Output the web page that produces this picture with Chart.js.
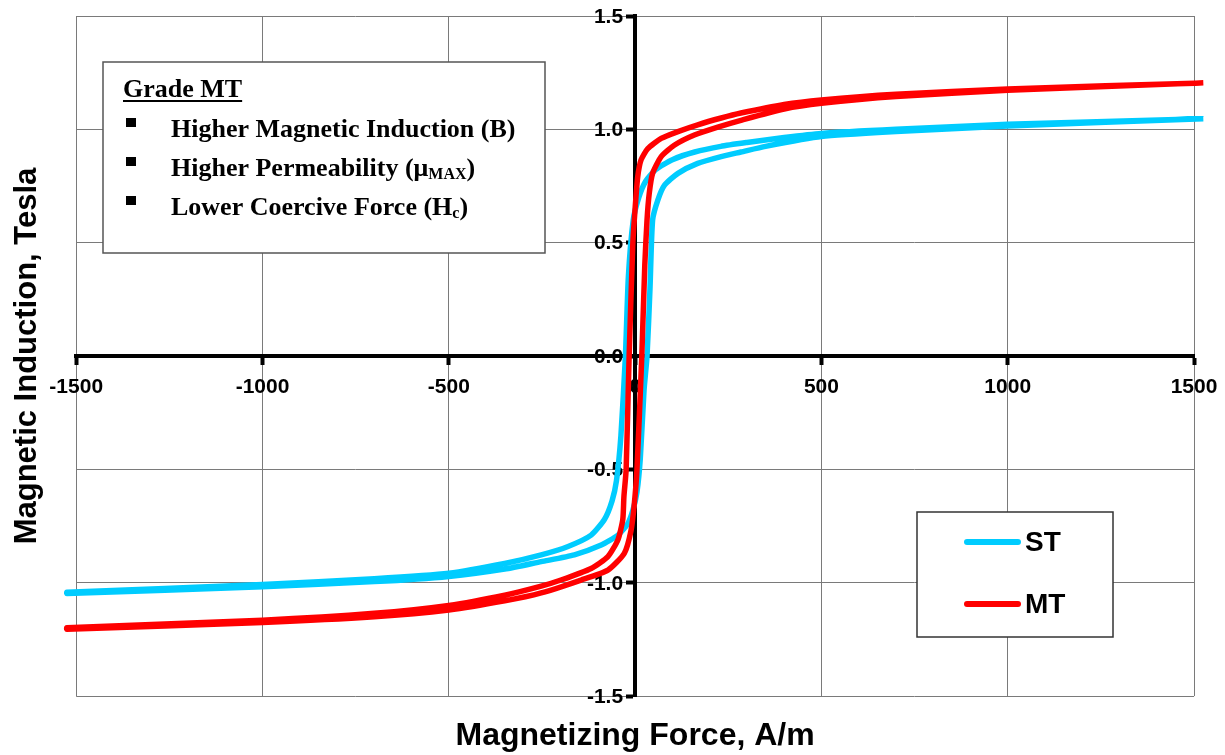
<!DOCTYPE html>
<html>
<head>
<meta charset="utf-8">
<title>B-H hysteresis loops, ST vs MT</title>
<script src="https://cdn.jsdelivr.net/npm/chart.js@4.4.1/dist/chart.umd.min.js"></script>
<style>
  html, body { margin: 0; padding: 0; background: #ffffff; }
  #wrap { width: 1225px; height: 755px; }
</style>
</head>
<body>
<div id="wrap"><canvas id="bhChart" width="1225" height="755"></canvas></div>
<script>
// axis ticks
const xTickValues = [-1500, -1000, -500, 0, 500, 1000, 1500];
const xTickLabels = ['-1500', '-1000', '-500', '0', '500', '1000', '1500'];
const yTickValues = [-1.5, -1.0, -0.5, 0, 0.5, 1.0, 1.5];
const yTickLabels = ['-1.5', '-1.0', '-0.5', '0.0', '0.5', '1.0', '1.5'];

const seriesNames = ['ST', 'MT'];

// ST loop (H in A/m, B in Tesla), descending branch then ascending branch
const stDownH = [1525, 1000, 700, 500, 400, 300, 230, 160, 100, 55, 28, 10, -5, -18, -26, -38, -50, -62, -82, -118, -180, -252, -350, -500, -700, -1000, -1525];
const stDownB = [1.047, 1.022, 1.0, 0.982, 0.964, 0.942, 0.925, 0.9, 0.866, 0.822, 0.77, 0.7, 0.6, 0.35, 0, -0.35, -0.55, -0.64, -0.72, -0.79, -0.84, -0.877, -0.915, -0.958, -0.982, -1.008, -1.042];
const stUpH = [-1525, -1000, -700, -500, -350, -252, -163, -91, -46, -20, -6, 5, 14, 24, 32, 40, 47, 61, 79, 115, 168, 231, 284, 350, 500, 700, 1000, 1525];
const stUpB = [-1.047, -1.018, -0.995, -0.972, -0.94, -0.907, -0.877, -0.834, -0.79, -0.74, -0.68, -0.6, -0.45, -0.15, 0, 0.3, 0.6, 0.688, 0.754, 0.806, 0.85, 0.88, 0.9, 0.925, 0.968, 0.99, 1.015, 1.047];

// MT loop
const mtDownH = [1525, 1000, 700, 500, 400, 284, 231, 168, 115, 70, 34, 16, 7, 0, -6, -16, -24, -30, -33, -46, -73, -118, -199, -252, -350, -500, -700, -1000, -1525];
const mtDownB = [1.205, 1.178, 1.155, 1.13, 1.11, 1.072, 1.05, 1.02, 0.99, 0.96, 0.915, 0.865, 0.79, 0.65, 0.5, 0, -0.5, -0.62, -0.72, -0.81, -0.885, -0.937, -0.988, -1.015, -1.055, -1.1, -1.135, -1.165, -1.198];
const mtUpH = [-1525, -1000, -700, -500, -350, -252, -145, -73, -29, -11, -2, 5, 18, 26, 32, 38, 47, 70, 105, 159, 222, 284, 400, 500, 700, 1000, 1525];
const mtUpB = [-1.205, -1.175, -1.15, -1.12, -1.08, -1.045, -0.988, -0.944, -0.87, -0.77, -0.65, -0.5, 0, 0.4, 0.6, 0.718, 0.806, 0.88, 0.93, 0.975, 1.01, 1.04, 1.09, 1.115, 1.145, 1.172, 1.205];

// text box
const noteTitle = 'Grade MT';
const noteLines = [
    [{ t: 'Higher Magnetic Induction (B)' }],
    [{ t: 'Higher Permeability (\u03bc' }, { t: 'MAX', sub: true }, { t: ')' }],
    [{ t: 'Lower Coercive Force (H' }, { t: 'c', sub: true }, { t: ')' }]
];

const colors = {
    st: '#00CCFF',
    mt: '#FF0000',
    grid: '#7a7a7a',
    axis: '#000000'
};

const sansFamily = "'Liberation Sans', Arial, Helvetica, sans-serif";
const serifFamily = "'Liberation Serif', 'Times New Roman', serif";

function loopPoints(downH, downB, upH, upB) {
    const pts = downH.map((h, i) => ({ x: h, y: downB[i] }));
    return pts.concat(upH.map((h, i) => ({ x: h, y: upB[i] })));
}

// y tick labels sit just left of the zero line (Chart.js puts them right on it)
const yLabelsPlugin = {
    id: 'yLabels',
    beforeDatasetsDraw(chart) {
        const ctx = chart.ctx;
        const xs = chart.scales.x;
        const ys = chart.scales.y;
        const x0 = xs.getPixelForValue(0) - 12;
        ctx.save();
        ctx.fillStyle = '#000000';
        ctx.font = 'bold 21px ' + sansFamily;
        ctx.textAlign = 'right';
        ctx.textBaseline = 'middle';
        yTickValues.forEach((v, i) => ctx.fillText(yTickLabels[i], x0, ys.getPixelForValue(v) + 1));
        ctx.restore();
    }
};

// Grade box + legend drawn on top of the plot
const notesPlugin = {
    id: 'notes',
    afterDraw(chart) {
        const ctx = chart.ctx;
        ctx.save();

        // Grade MT box
        ctx.fillStyle = '#ffffff';
        ctx.fillRect(103, 62, 442, 191);
        ctx.strokeStyle = '#555555';
        ctx.lineWidth = 1.5;
        ctx.strokeRect(103, 62, 442, 191);

        ctx.fillStyle = '#000000';
        ctx.textBaseline = 'alphabetic';
        ctx.textAlign = 'left';
        ctx.font = 'bold 26px ' + serifFamily;
        ctx.fillText(noteTitle, 123, 97);
        ctx.fillRect(123, 100, ctx.measureText(noteTitle).width, 2);

        noteLines.forEach((line, i) => {
            const base = 137 + i * 39;
            ctx.fillRect(126, base - 19, 10, 9);
            let x = 171;
            line.forEach(seg => {
                ctx.font = (seg.sub ? 'bold 16px ' : 'bold 26px ') + serifFamily;
                ctx.fillText(seg.t, x, base + (seg.sub ? 3 : 0));
                x += ctx.measureText(seg.t).width;
            });
        });

        // legend box
        ctx.fillStyle = '#ffffff';
        ctx.fillRect(917, 512, 196, 125);
        ctx.strokeStyle = '#333333';
        ctx.lineWidth = 1.5;
        ctx.strokeRect(917, 512, 196, 125);

        ctx.font = 'bold 28px ' + sansFamily;
        ctx.textBaseline = 'middle';
        chart.data.datasets.forEach((ds, i) => {
            const y = 542 + i * 62;
            ctx.strokeStyle = ds.borderColor;
            ctx.lineWidth = 6;
            ctx.lineCap = 'round';
            ctx.beginPath();
            ctx.moveTo(967, y);
            ctx.lineTo(1018, y);
            ctx.stroke();
            ctx.fillStyle = '#000000';
            ctx.fillText(ds.label, 1025, y + 1);
        });

        ctx.restore();
    }
};

const tickFont = { family: sansFamily, size: 21, weight: 'bold' };

const ctxBH = document.getElementById('bhChart').getContext('2d');
const bhChart = new Chart(ctxBH, {
    type: 'scatter',
    data: {
        datasets: [
            {
                label: seriesNames[0],
                data: loopPoints(stDownH, stDownB, stUpH, stUpB),
                borderColor: colors.st,
                backgroundColor: colors.st,
                borderWidth: 5.5,
                showLine: true,
                pointRadius: 0,
                tension: 0.2,
                borderJoinStyle: 'round',
                clip: false,
                order: 1
            },
            {
                label: seriesNames[1],
                data: loopPoints(mtDownH, mtDownB, mtUpH, mtUpB),
                borderColor: colors.mt,
                backgroundColor: colors.mt,
                borderWidth: 5.5,
                showLine: true,
                pointRadius: 0,
                tension: 0.2,
                borderJoinStyle: 'round',
                clip: false,
                order: 0
            }
        ]
    },
    options: {
        responsive: false,
        animation: false,
        layout: { padding: { top: 16, right: 31, bottom: 0, left: 0 } },
        plugins: {
            legend: { display: false },
            tooltip: { enabled: false },
            title: {
                display: true,
                text: 'Magnetic Induction, Tesla',
                position: 'left',
                fullSize: false,
                color: '#000000',
                font: { family: sansFamily, size: 31, weight: 'bold', lineHeight: 1.2 },
                padding: { top: 9, bottom: 30 }
            },
            subtitle: {
                display: true,
                text: 'Magnetizing Force, A/m',
                position: 'bottom',
                fullSize: false,
                color: '#000000',
                font: { family: sansFamily, size: 32, weight: 'bold', lineHeight: 1.2 },
                padding: { top: 20.5, bottom: 0 }
            }
        },
        scales: {
            x: {
                type: 'linear',
                min: -1500,
                max: 1500,
                position: { y: 0 },
                afterBuildTicks: scale => { scale.ticks = xTickValues.map(v => ({ value: v })); },
                // end labels may overhang the plot; layout padding sets the edges
                afterFit: scale => { scale.paddingLeft = 0; scale.paddingRight = 0; },
                ticks: {
                    autoSkip: false,
                    maxRotation: 0,
                    color: '#000000',
                    font: tickFont,
                    padding: 12,
                    callback: (value, index) => xTickLabels[index]
                },
                grid: {
                    color: colors.grid,
                    lineWidth: 1,
                    drawTicks: true,
                    tickLength: 7,
                    tickWidth: 4,
                    tickColor: colors.axis
                },
                border: { color: colors.axis, width: 4 }
            },
            y: {
                type: 'linear',
                min: -1.5,
                max: 1.5,
                position: { x: 0 },
                afterBuildTicks: scale => { scale.ticks = yTickValues.map(v => ({ value: v })); },
                ticks: {
                    display: false,
                    autoSkip: false
                },
                grid: {
                    color: colors.grid,
                    lineWidth: 1,
                    drawTicks: true,
                    tickLength: 7,
                    tickWidth: 4,
                    tickColor: colors.axis
                },
                border: { color: colors.axis, width: 4 }
            }
        }
    },
    plugins: [yLabelsPlugin, notesPlugin]
});
</script>
</body>
</html>
